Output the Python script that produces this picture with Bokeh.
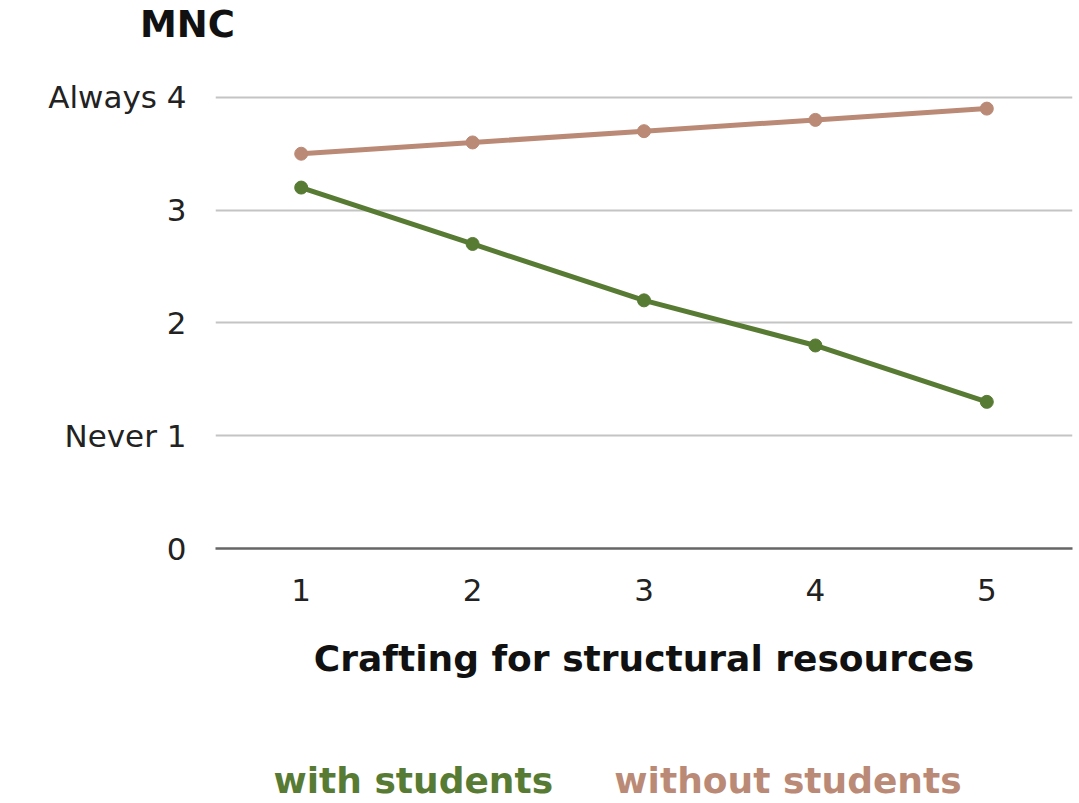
from bokeh.plotting import figure
from bokeh.models import FixedTicker, Div
from bokeh.layouts import column
from bokeh.embed import file_html
from bokeh.resources import INLINE

x_values = [1, 2, 3, 4, 5]
with_students = [3.2, 2.7, 2.2, 1.8, 1.3]
without_students = [3.5, 3.6, 3.7, 3.8, 3.9]
y_ticks = [0, 1, 2, 3, 4]
y_tick_labels = {0: "0", 1: "Never 1", 2: "2", 3: "3", 4: "Always 4"}
x_title = "Crafting for structural resources"
y_title = "MNC"
series_names = ["with students", "without students"]
legend_x = [1.654, 3.84]

GREEN = "#587b34"
BROWN = "#ba8a76"
FONT = "DejaVu Sans"
W = 1073

# header with the y title
hdr = Div(text=y_title, width=W, height=63, margin=0,
          styles={"font-family": FONT, "font-size": "37px", "font-weight": "bold",
                  "color": "#111111", "line-height": "50px", "padding-left": "140px",
                  "box-sizing": "border-box"})

p = figure(width=W, height=657, output_backend="svg", toolbar_location=None,
           x_range=(0.5, 5.5), y_range=(0, 4.3), title=None,
           min_border_left=215, min_border_right=1, min_border_top=0,
           min_border_bottom=172)
p.outline_line_color = None

p.xgrid.grid_line_color = None
p.ygrid.ticker = FixedTicker(ticks=y_ticks)
p.ygrid.grid_line_color = "#c4c4c4"
p.ygrid.grid_line_width = 2

p.yaxis.ticker = FixedTicker(ticks=y_ticks)
p.yaxis.major_label_overrides = y_tick_labels
p.yaxis.axis_line_color = None
p.yaxis.major_tick_line_color = None
p.yaxis.minor_tick_line_color = None
p.yaxis.major_label_text_font = FONT
p.yaxis.major_label_text_font_size = "31px"
p.yaxis.major_label_text_color = "#222222"
p.yaxis.major_label_standoff = 23

p.xaxis.ticker = FixedTicker(ticks=x_values)
p.xaxis.axis_line_color = "#666666"
p.xaxis.axis_line_width = 2.5
p.xaxis.major_tick_line_color = None
p.xaxis.minor_tick_line_color = None
p.xaxis.major_label_text_font = FONT
p.xaxis.major_label_text_font_size = "31px"
p.xaxis.major_label_text_color = "#222222"
p.xaxis.major_label_standoff = 24
p.xaxis.axis_label = x_title
p.xaxis.axis_label_text_font = FONT
p.xaxis.axis_label_text_font_size = "36px"
p.xaxis.axis_label_text_font_style = "bold"
p.xaxis.axis_label_text_color = "#111111"
p.xaxis.axis_label_standoff = 34

p.line(x_values, without_students, line_color=BROWN, line_width=5)
p.scatter(x_values, without_students, size=13, fill_color=BROWN, line_color=BROWN)
p.line(x_values, with_students, line_color=GREEN, line_width=5)
p.scatter(x_values, with_students, size=13, fill_color=GREEN, line_color=GREEN)

# legend row: coloured series names
lg = figure(width=W, height=83, output_backend="svg", toolbar_location=None,
            x_range=(0.5, 5.5), y_range=(0, 83),
            min_border_left=215, min_border_right=1, min_border_top=0,
            min_border_bottom=0)
lg.axis.visible = False
lg.grid.visible = False
lg.outline_line_color = None
lg.text(x=legend_x, y=[23, 23], text=series_names,
        text_color=[GREEN, BROWN], text_font_size="36px", text_font_style="bold",
        text_font={"value": FONT}, text_align="center", text_baseline="middle")

open("out.html", "w").write(file_html(column(hdr, p, lg, spacing=0), INLINE))
